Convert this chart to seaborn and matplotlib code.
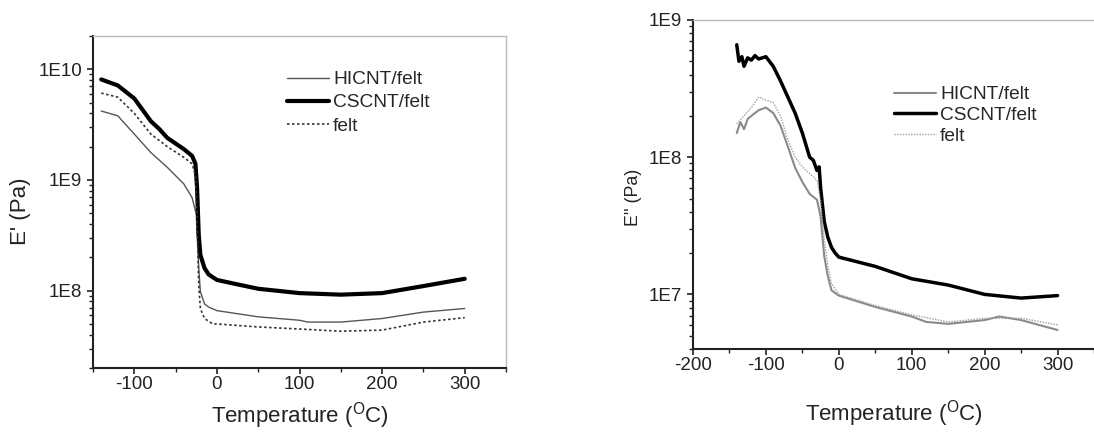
import numpy as np
import pandas as pd
import matplotlib
matplotlib.use("Agg")
import matplotlib.pyplot as plt
import matplotlib.ticker as mticker
import seaborn as sns

# ---- Left panel: storage modulus E' ----
t_hi_l = [-140, -120, -100, -80, -60, -40, -30, -25, -22, -20, -15, -10, 0, 50, 100, 110, 150, 200, 250, 300]
e_hi_l = [4.2e9, 3.8e9, 2.6e9, 1.77e9, 1.3e9, 9.2e8, 6.9e8, 4.9e8, 1.6e8, 9.8e7, 7.6e7, 7.1e7, 6.6e7, 5.8e7, 5.4e7, 5.2e7, 5.2e7, 5.6e7, 6.4e7, 6.9e7]
t_cs_l = [-140, -120, -100, -80, -70, -60, -40, -30, -26, -24, -22, -20, -15, -10, 0, 20, 50, 100, 150, 200, 250, 300]
e_cs_l = [8.1e9, 7.15e9, 5.45e9, 3.4e9, 2.9e9, 2.4e9, 1.9e9, 1.65e9, 1.4e9, 8.5e8, 3.2e8, 2.1e8, 1.6e8, 1.4e8, 1.25e8, 1.16e8, 1.04e8, 9.5e7, 9.2e7, 9.5e7, 1.1e8, 1.28e8]
t_fe_l = [-140, -120, -100, -80, -60, -40, -30, -26, -24, -22, -20, -15, -5, 0, 50, 100, 150, 200, 250, 300]
e_fe_l = [6.1e9, 5.6e9, 4.0e9, 2.6e9, 2.0e9, 1.6e9, 1.4e9, 1.1e9, 4.5e8, 1.13e8, 6.9e7, 5.6e7, 5.0e7, 5.0e7, 4.7e7, 4.5e7, 4.3e7, 4.4e7, 5.2e7, 5.7e7]

# ---- Right panel: loss modulus E'' ----
t_cs_r = [-140, -137, -133, -130, -125, -120, -115, -110, -100, -90, -80, -70, -60, -50, -40, -35, -30, -27, -25, -20, -15, -10, -5, 0, 50, 100, 150, 200, 250, 300]
e_cs_r = [6.6e8, 5.0e8, 5.4e8, 4.6e8, 5.3e8, 5.1e8, 5.5e8, 5.2e8, 5.4e8, 4.6e8, 3.6e8, 2.75e8, 2.1e8, 1.5e8, 1.0e8, 9.5e7, 8.0e7, 8.5e7, 6.0e7, 3.4e7, 2.6e7, 2.2e7, 2.0e7, 1.87e7, 1.6e7, 1.3e7, 1.17e7, 1.0e7, 9.4e6, 9.8e6]
t_hi_r = [-140, -135, -130, -125, -120, -110, -100, -90, -80, -70, -60, -50, -40, -30, -25, -20, -15, -10, 0, 50, 100, 120, 150, 200, 220, 250, 300]
e_hi_r = [1.5e8, 1.8e8, 1.6e8, 1.9e8, 2.0e8, 2.2e8, 2.3e8, 2.1e8, 1.7e8, 1.2e8, 8.4e7, 6.6e7, 5.4e7, 4.9e7, 3.7e7, 1.9e7, 1.35e7, 1.07e7, 9.8e6, 8.1e6, 6.9e6, 6.3e6, 6.1e6, 6.5e6, 6.9e6, 6.5e6, 5.5e6]
t_fe_r = [-140, -120, -110, -100, -90, -80, -70, -60, -50, -40, -30, -25, -20, -15, -10, 0, 50, 100, 150, 200, 250, 300]
e_fe_r = [1.75e8, 2.3e8, 2.75e8, 2.6e8, 2.5e8, 2.0e8, 1.35e8, 1.0e8, 8.5e7, 7.6e7, 6.8e7, 4.8e7, 2.5e7, 1.6e7, 1.2e7, 1.0e7, 8.3e6, 7.1e6, 6.3e6, 6.7e6, 6.7e6, 6.0e6]

labels = ["HICNT/felt", "CSCNT/felt", "felt"]
x_ticks_left = [-100, 0, 100, 200, 300]
x_ticks_right = [-200, -100, 0, 100, 200, 300]

sns.set_style("ticks")
plt.rcParams['font.family'] = ['Liberation Sans', 'DejaVu Sans']
plt.rcParams['mathtext.fontset'] = 'custom'
plt.rcParams['mathtext.rm'] = 'Liberation Sans'
plt.rcParams['axes.unicode_minus'] = False

fig = plt.figure(figsize=(10.94, 4.32), dpi=100)
axL = fig.add_axes([93/1094, 1-368/432, (506-93)/1094, (368-36)/432])
axR = fig.add_axes([693/1094, 1-349/432, (1094-693)/1094, (349-20)/432])

def fmt(v, pos):
    return "1E%d" % int(round(np.log10(v)))

def style_axis(ax, xlim, ylim, xticks, ylabel, ylabel_size, show_right):
    ax.set_yscale('log')
    ax.set_xlim(*xlim)
    ax.set_ylim(*ylim)
    ax.xaxis.set_major_locator(mticker.FixedLocator(xticks))
    ax.xaxis.set_minor_locator(mticker.MultipleLocator(50))
    ax.yaxis.set_major_locator(mticker.LogLocator(base=10, numticks=10))
    ax.yaxis.set_minor_locator(mticker.LogLocator(base=10, subs=np.arange(2, 10), numticks=20))
    ax.yaxis.set_major_formatter(mticker.FuncFormatter(fmt))
    ax.yaxis.set_minor_formatter(mticker.NullFormatter())
    ax.tick_params(axis='both', which='major', direction='out', length=4.3, width=1.2,
                   labelsize=13.5, colors='#222222')
    ax.tick_params(axis='x', which='major', pad=1.5)
    ax.tick_params(axis='y', which='major', pad=3.6)
    ax.tick_params(axis='both', which='minor', direction='out', length=2.8, width=1.0, colors='#222222')
    ax.tick_params(top=False, right=False, which='both')
    for s in ['left', 'bottom']:
        ax.spines[s].set_color('#222222')
        ax.spines[s].set_linewidth(1.5)
    ax.spines['top'].set_color('#bbbbbb')
    ax.spines['top'].set_linewidth(1.0)
    if show_right:
        ax.spines['right'].set_color('#bbbbbb')
        ax.spines['right'].set_linewidth(1.0)
    else:
        ax.spines['right'].set_visible(False)
    ax.set_ylabel(ylabel, fontsize=ylabel_size, color='#222222')

# Left panel
sns.lineplot(x=t_hi_l, y=e_hi_l, ax=axL, color='#555555', lw=1.0, label=labels[0], sort=False)
sns.lineplot(x=t_cs_l, y=e_cs_l, ax=axL, color='black', lw=3.0, label=labels[1], sort=False)
sns.lineplot(x=t_fe_l, y=e_fe_l, ax=axL, color='#333333', lw=1.2, linestyle=(0, (1.5, 1.5)), label=labels[2], sort=False)
style_axis(axL, (-150, 350), (2e7, 2e10), x_ticks_left, "E' (Pa)", 16, True)
axL.set_xlabel(r"Temperature ($^{\mathrm{O}}$C)", fontsize=16, color='#222222', labelpad=5)
axL.yaxis.set_label_coords(-0.149, 0.473)
axL.legend(loc='upper left', bbox_to_anchor=(0.470, 0.895), frameon=False, fontsize=13.8,
           handlelength=2.2, handletextpad=0.2, labelspacing=0.3, borderpad=0, borderaxespad=0)

# Right panel
sns.lineplot(x=t_hi_r, y=e_hi_r, ax=axR, color='#8a8a8a', lw=1.5, label=labels[0], sort=False)
sns.lineplot(x=t_cs_r, y=e_cs_r, ax=axR, color='black', lw=2.5, label=labels[1], sort=False)
sns.lineplot(x=t_fe_r, y=e_fe_r, ax=axR, color='#a0a0a0', lw=1.0, linestyle=(0, (1, 1)), label=labels[2], sort=False)
style_axis(axR, (-200, 350), (4e6, 1e9), x_ticks_right, "E'' (Pa)", 12.8, False)
axR.set_xlabel(r"Temperature ($^{\mathrm{O}}$C)", fontsize=16, color='#222222', labelpad=17)
axR.yaxis.set_label_coords(-0.128, 0.462)
axR.legend(loc='upper left', bbox_to_anchor=(0.501, 0.80), frameon=False, fontsize=13.8,
           handlelength=2.2, handletextpad=0.2, labelspacing=0.17, borderpad=0, borderaxespad=0)

fig.savefig("out.png", dpi=100, facecolor='white')
